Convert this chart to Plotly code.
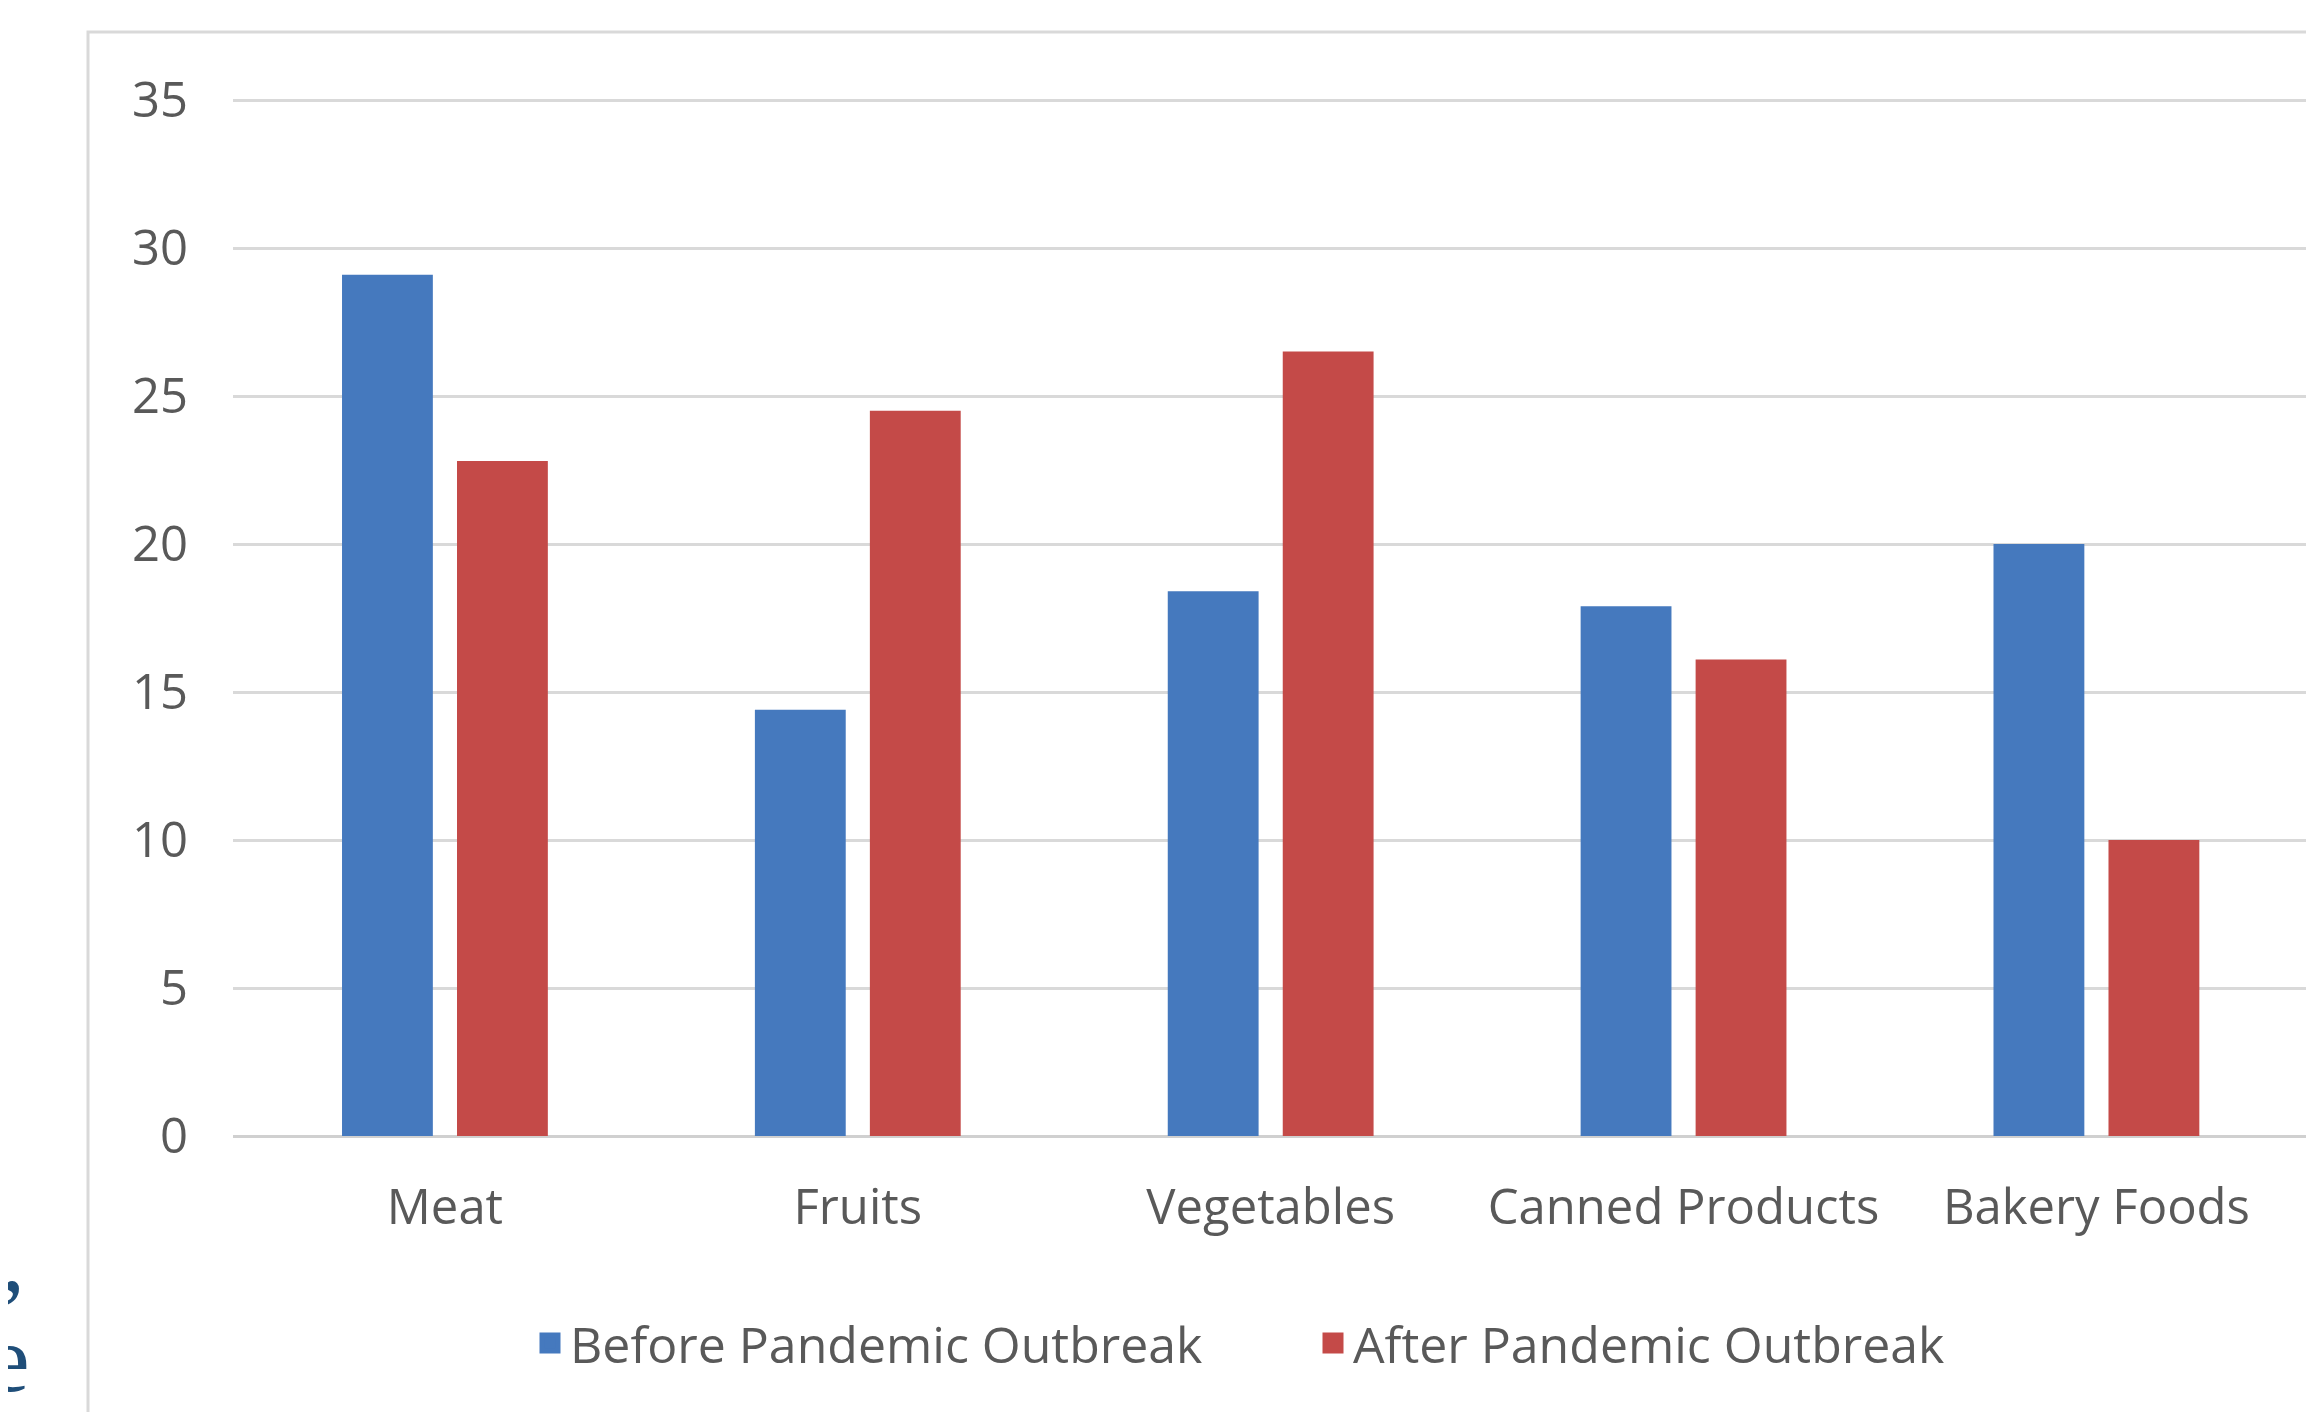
import plotly.graph_objects as go

categories = ["Meat", "Fruits", "Vegetables", "Canned Products", "Bakery Foods"]
before_values = [29.1, 14.4, 18.4, 17.9, 20.0]
after_values = [22.8, 24.5, 26.5, 16.1, 10.0]
series_names = ["Before Pandemic Outbreak", "After Pandemic Outbreak"]
series_colors = ["#4579BE", "#C44A48"]
y_ticks = [0, 5, 10, 15, 20, 25, 30, 35]

# page body has an 8px default margin: work in window pixels, convert to figure pixels
OFF = 8
W, H = 2314 - OFF, 1412 - OFF
L, R = 233 - OFF, 0
T = 100 - OFF - 2
B = H - (1136 - OFF)
pw = W - L - R
ph = H - T - B
y_top = 35 * ph / (ph - 2)


def px(xw):
    return (xw - OFF - L) / pw


def py(yw):
    return (H - B - (yw - OFF)) / ph


FONT = "Open Sans"
GRAY = "#595959"

fig = go.Figure()
for name, vals, col in zip(series_names, [before_values, after_values], series_colors):
    fig.add_trace(go.Bar(x=categories, y=vals, name=name, showlegend=False,
                         marker=dict(color=col, line=dict(width=0))))
# legend entries (larger square swatches)
for name, col in zip(series_names, series_colors):
    fig.add_trace(go.Scatter(x=[None], y=[None], name=name, mode="markers",
                             marker=dict(symbol="square", size=16, color=col,
                                         line=dict(width=5, color=col))))

fig.update_layout(
    width=W, height=H,
    margin=dict(l=L, r=R, t=T, b=B, pad=0),
    paper_bgcolor="white", plot_bgcolor="white",
    barmode="group", bargap=0.443, bargroupgap=0.21,
    font=dict(family=FONT, size=49, color=GRAY),
    legend=dict(orientation="h", x=px(530), xanchor="left",
                y=py(1343), yanchor="middle",
                entrywidth=738, entrywidthmode="pixels",
                font=dict(family=FONT, size=50, color=GRAY),
                bgcolor="rgba(0,0,0,0)"),
    xaxis=dict(range=[-0.5133, 4.527], showgrid=False, zeroline=False,
               showline=False, ticks="", ticklabelstandoff=38,
               tickfont=dict(family=FONT, size=49, color=GRAY)),
    yaxis=dict(range=[0, y_top], tickvals=y_ticks, showgrid=True,
               gridcolor="#D9D9D9", gridwidth=3, zeroline=True,
               zerolinecolor="#D0D0D0", zerolinewidth=3, showline=False,
               ticks="", ticklabelstandoff=44,
               tickfont=dict(family=FONT, size=49, color=GRAY)),
    showlegend=True,
)

# chart frame border
fig.add_shape(type="rect", xref="paper", yref="paper",
              x0=px(88), x1=px(2314 + 40), y0=py(1412 + 40), y1=py(32),
              line=dict(color="#D9D9D9", width=3), fillcolor="rgba(0,0,0,0)",
              layer="below")

# fragments of surrounding page text (cut off at the left edge)
fig.add_annotation(text=",", xref="paper", yref="paper",
                   x=px(-1), y=py(1258), xanchor="left", yanchor="middle",
                   showarrow=False,
                   font=dict(family="Liberation Serif", size=96, color="#1F4E79"))
fig.add_annotation(text="e", xref="paper", yref="paper",
                   x=px(-15), y=py(1358), xanchor="left", yanchor="middle",
                   showarrow=False,
                   font=dict(family="Liberation Serif", size=96, color="#1F4E79"))

fig.write_html("out.html")
